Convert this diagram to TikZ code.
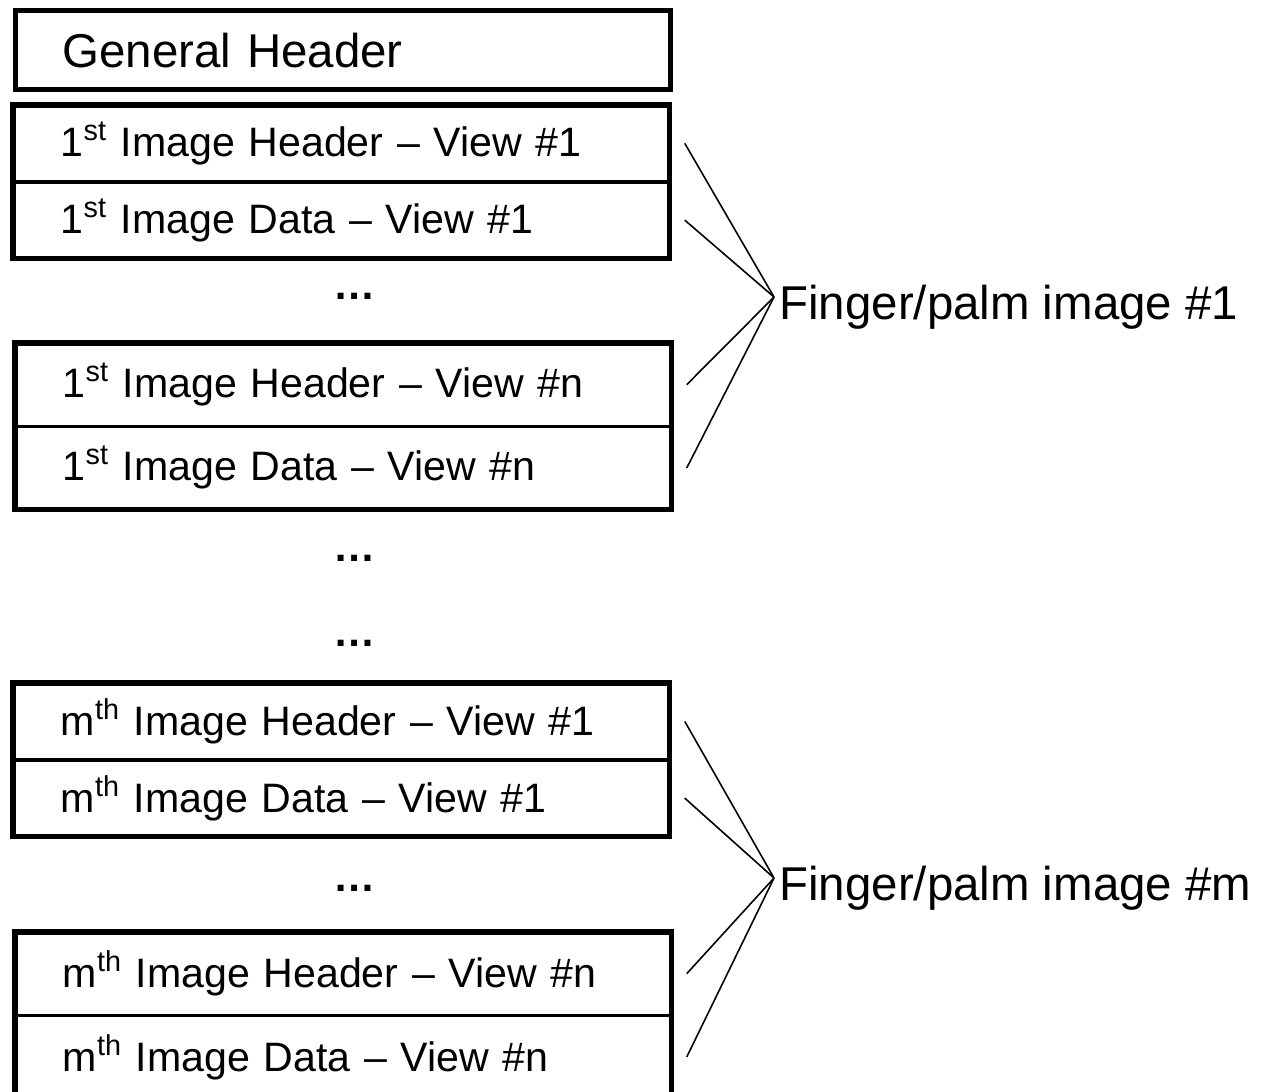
\documentclass[tikz,border=0pt]{standalone}
\usepackage{fontspec}
\setmainfont{Liberation Sans}
\usetikzlibrary{positioning, fit}

\begin{document}
\begin{tikzpicture}[
  every node/.style={font=\fontsize{23.4}{28}\selectfont},
  row/.style={
    rectangle, draw, line width=1pt,
    minimum height=#1, text width=11.22cm, align=left,
    inner xsep=0.94cm, inner ysep=0pt, anchor=north west
  },
  row/.default=1.5cm,
  frame/.style={rectangle, draw, line width=2.9pt, inner sep=0pt},
  gap/.style={font=\fontsize{24}{28}\selectfont\bfseries, anchor=base},
  tag/.style={font=\fontsize{27}{32}\selectfont, anchor=base west, inner xsep=0.1cm},
  fan/.style={line width=0.9pt}
]
\useasboundingbox (0,0) rectangle (25.24,-21.82);

% -- General header ------------------------------------------------------------
\node[row=1.58cm, line width=2.9pt, font=\fontsize{27}{32}\selectfont]
  (gen) at (0.26,-0.16) {General Header};

% -- 1st image, view #1 --------------------------------------------------------
\node[row] (g1h) at (0.26,-2.10) {1\textsuperscript{st} Image Header -- View \#1};
\node[row, below=0pt of g1h] (g1d) {1\textsuperscript{st} Image Data -- View \#1};
\node[frame, fit=(g1h)(g1d)] (g1) {};

\node[gap] (dots1) at (7.1,-5.98) {…};

% -- 1st image, view #n --------------------------------------------------------
\node[row=1.63cm] (g2h) at (0.30,-6.86) {1\textsuperscript{st} Image Header -- View \#n};
\node[row=1.63cm, below=0pt of g2h] (g2d) {1\textsuperscript{st} Image Data -- View \#n};
\node[frame, fit=(g2h)(g2d)] (g2) {};

\node[gap] (dots2) at (7.1,-11.22) {…};
\node[gap] (dots3) at (7.1,-12.92) {…};

% -- mth image, view #1 --------------------------------------------------------
\node[row] (g3h) at (0.26,-13.66) {m\textsuperscript{th} Image Header -- View \#1};
\node[row, below=0pt of g3h] (g3d) {m\textsuperscript{th} Image Data -- View \#1};
\node[frame, fit=(g3h)(g3d)] (g3) {};

\node[gap] (dots4) at (7.1,-17.82) {…};

% -- mth image, view #n --------------------------------------------------------
\node[row=1.63cm] (g4h) at (0.30,-18.64) {m\textsuperscript{th} Image Header -- View \#n};
\node[row=1.63cm, below=0pt of g4h] (g4d) {m\textsuperscript{th} Image Data -- View \#n};
\node[frame, fit=(g4h)(g4d)] (g4) {};

% -- image labels --------------------------------------------------------------
\coordinate (apex1) at (15.48,-5.94);
\coordinate (apexm) at (15.48,-17.56);
\node[tag] (lbl1) at ([yshift=-0.44cm]apex1) {Finger/palm image \#1};
\node[tag] (lblm) at ([yshift=-0.44cm]apexm) {Finger/palm image \#m};

% fans
\foreach \r in {g1h,g1d,g2h,g2d}
  \draw[fan] ([xshift=0.3cm]\r.east) -- (apex1);
\foreach \r in {g3h,g3d,g4h,g4d}
  \draw[fan] ([xshift=0.3cm]\r.east) -- (apexm);

\end{tikzpicture}
\end{document}
